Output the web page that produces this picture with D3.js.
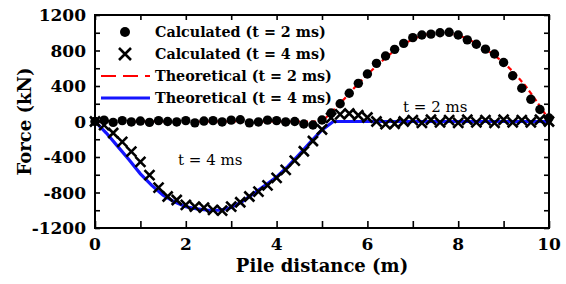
<!DOCTYPE html>
<html>
<head>
<meta charset="utf-8">
<script src="https://cdn.jsdelivr.net/npm/d3@7"></script>
<style>
  body { margin: 0; background: #fff; }
  svg text { font-family: "DejaVu Serif", serif; }
</style>
</head>
<body>
<svg id="chart" width="566" height="284"></svg>
<script>
// pile positions of the calculated points (m)
const calcX = [0, 0.2, 0.4, 0.6, 0.8, 1.0, 1.2, 1.4, 1.6, 1.8, 2.0, 2.2, 2.4, 2.6, 2.8, 3.0, 3.2, 3.4, 3.6, 3.8,
  4.0, 4.2, 4.4, 4.6, 4.8, 5.0, 5.2, 5.4, 5.6, 5.8, 6.0, 6.2, 6.4, 6.6, 6.8, 7.0, 7.2, 7.4, 7.6, 7.8,
  8.0, 8.2, 8.4, 8.6, 8.8, 9.0, 9.2, 9.4, 9.6, 9.8, 10.0];
// calculated force, t = 2 ms (kN)
const calc2 = [0, 15, -10, 10, -5, 5, -10, 10, 0, -5, 10, -15, 5, 10, -5, 15, 20, -15, -5, 15,
  10, -5, 0, -28, -40, 17, 95, 200, 318, 430, 535, 655, 738, 813, 880, 945, 975, 985, 1000, 1005,
  975, 920, 870, 815, 760, 665, 515, 375, 250, 135, 40];
// calculated force, t = 4 ms (kN)
const calc4 = [0, -40, -130, -230, -340, -455, -605, -745, -845, -885, -940, -960, -970, -995, -1005, -960, -910, -845, -790, -720,
  -635, -545, -440, -335, -220, -90, 40, 80, 90, 70, 45, 0, -30, -25, 0, 15, -15, 20, -10, 15,
  -15, 20, -10, 15, -15, 20, -10, 15, -10, 20, 0];

// positions of the theoretical curves (m)
const theoX = [0, 0.25, 0.5, 0.75, 1.0, 1.25, 1.5, 1.75, 2.0, 2.25, 2.5, 2.75, 3.0, 3.25, 3.5, 3.75, 4.0, 4.25, 4.5, 4.75,
  5.0, 5.25, 5.5, 5.75, 6.0, 6.25, 6.5, 6.75, 7.0, 7.25, 7.5, 7.75, 8.0, 8.25, 8.5, 8.75, 9.0, 9.25, 9.5, 9.75, 10.0];
const theo2 = [0, 0, 0, 0, 0, 0, 0, 0, 0, 0, 0, 0, 0, 0, 0, 0, 0, 0, 0, 0,
  0, 125, 260, 400, 530, 650, 760, 855, 930, 975, 1000, 1000, 975, 920, 850, 765, 665, 540, 390, 210, 20];
const theo4 = [0, -130, -280, -430, -590, -720, -830, -905, -960, -985, -1000, -1000, -970, -900, -810, -720, -625, -505, -370, -230,
  -95, 0, 0, 0, 0, 0, 0, 0, 0, 0, 0, 0, 0, 0, 0, 0, 0, 0, 0, 0, 0];

const xTicks = [0, 2, 4, 6, 8, 10];
const yTicks = [-1200, -800, -400, 0, 400, 800, 1200];

const legendLabels = ["Calculated (t = 2 ms)", "Calculated (t = 4 ms)", "Theoretical (t = 2 ms)", "Theoretical (t = 4 ms)"];

const svg = d3.select("#chart");
const x = d3.scaleLinear().domain([0, 10]).range([95, 549]);
const y = d3.scaleLinear().domain([-1200, 1200]).range([228, 15]);

const RED = "#ff0000", BLUE = "#1515ff";

// inward ticks on all four sides
svg.append("g").attr("transform", `translate(0,${y(-1200)})`)
  .call(d3.axisBottom(x).tickValues(d3.range(0, 11, 1)).tickSizeInner(-7).tickSizeOuter(0).tickFormat(""));
svg.append("g").attr("transform", `translate(0,${y(1200)})`)
  .call(d3.axisTop(x).tickValues(d3.range(0, 11, 1)).tickSizeInner(-5).tickSizeOuter(0).tickFormat(""));
svg.append("g").attr("transform", `translate(${x(0)},0)`)
  .call(d3.axisLeft(y).tickValues(d3.range(-1200, 1201, 200)).tickSizeInner(-5).tickSizeOuter(0).tickFormat(""));
svg.append("g").attr("transform", `translate(${x(10)},0)`)
  .call(d3.axisRight(y).tickValues(d3.range(-1200, 1201, 200)).tickSizeInner(-5).tickSizeOuter(0).tickFormat(""));
svg.selectAll(".domain").remove();
svg.selectAll(".tick line").attr("stroke", "#000").attr("stroke-width", 1.6);

// tick labels
svg.append("g").selectAll("text").data(xTicks).join("text")
  .attr("x", d => x(d)).attr("y", 250)
  .attr("text-anchor", "middle").attr("font-size", 17).attr("font-weight", "bold")
  .text(d => d);
svg.append("g").selectAll("text").data(yTicks).join("text")
  .attr("x", 86).attr("y", d => y(d) + 6)
  .attr("text-anchor", "end").attr("font-size", 17).attr("font-weight", "bold")
  .text(d => d);

// axis titles
svg.append("text").attr("x", x(5)).attr("y", 272)
  .attr("text-anchor", "middle").attr("font-size", 18).attr("font-weight", "bold")
  .text("Pile distance (m)");
svg.append("text").attr("transform", `translate(31,${y(0)}) rotate(-90)`)
  .attr("text-anchor", "middle").attr("font-size", 18).attr("font-weight", "bold")
  .text("Force (kN)");

// theoretical curves
const line = d3.line().x(d => x(d[0])).y(d => y(d[1]));
const t2 = theoX.map((v, i) => [v, theo2[i]]);
const t4 = theoX.map((v, i) => [v, theo4[i]]);
svg.append("path").attr("d", line(t4)).attr("fill", "none")
  .attr("stroke", BLUE).attr("stroke-width", 3.2);
svg.append("path").attr("d", line(t2)).attr("fill", "none")
  .attr("stroke", RED).attr("stroke-width", 2.2).attr("stroke-dasharray", "5,3");

// calculated points
svg.append("g").selectAll("circle").data(calcX).join("circle")
  .attr("cx", d => x(d)).attr("cy", (d, i) => y(calc2[i])).attr("r", 4.7).attr("fill", "#000");

const cross = (g, cx, cy, s) => g.append("path")
  .attr("d", `M${cx - s},${cy - s}L${cx + s},${cy + s}M${cx - s},${cy + s}L${cx + s},${cy - s}`)
  .attr("stroke", "#000").attr("stroke-width", 2.6).attr("fill", "none");
const gx = svg.append("g");
calcX.forEach((d, i) => cross(gx, x(d), y(calc4[i]), 5));

// frame
svg.append("rect").attr("x", x(0)).attr("y", y(1200))
  .attr("width", x(10) - x(0)).attr("height", y(-1200) - y(1200))
  .attr("fill", "none").attr("stroke", "#000").attr("stroke-width", 2);

// legend
const lg = svg.append("g");
const rows = [32, 54, 76, 98];
lg.append("circle").attr("cx", 125).attr("cy", rows[0]).attr("r", 5).attr("fill", "#000");
cross(lg, 125, rows[1], 6);
lg.append("line").attr("x1", 101).attr("x2", 150).attr("y1", rows[2]).attr("y2", rows[2])
  .attr("stroke", RED).attr("stroke-width", 2.2).attr("stroke-dasharray", "15,7");
lg.append("line").attr("x1", 101).attr("x2", 150).attr("y1", rows[3]).attr("y2", rows[3])
  .attr("stroke", BLUE).attr("stroke-width", 3.2);
lg.selectAll("text").data(legendLabels).join("text")
  .attr("x", 155).attr("y", (d, i) => rows[i] + 5)
  .attr("font-size", 14.3).attr("font-weight", "bold")
  .text(d => d);

// annotations
svg.append("text").attr("x", 178).attr("y", 165).attr("font-size", 15).text("t = 4 ms");
svg.append("text").attr("x", 403).attr("y", 112).attr("font-size", 15).text("t = 2 ms");
</script>
</body>
</html>
